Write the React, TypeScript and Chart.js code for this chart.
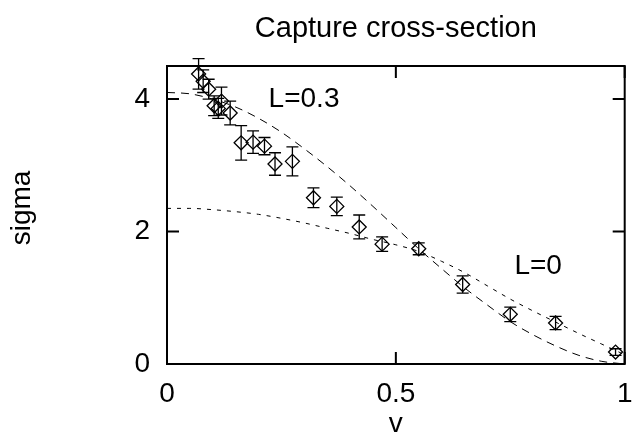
import React, { useEffect, useRef } from 'react';
import { Chart, registerables } from 'chart.js';

Chart.register(...registerables);

// ---- data ----
const vData = [0.069, 0.079, 0.091, 0.103, 0.112, 0.119, 0.138, 0.162, 0.188, 0.213, 0.236, 0.274, 0.32, 0.371, 0.42, 0.47, 0.55, 0.646, 0.75, 0.849, 0.98];
const sigmaData = [4.38, 4.27, 4.15, 3.9, 3.86, 3.97, 3.79, 3.34, 3.35, 3.29, 3.02, 3.06, 2.51, 2.38, 2.07, 1.81, 1.74, 1.2, 0.75, 0.62, 0.18];
const sigmaErr = [0.23, 0.17, 0.15, 0.15, 0.15, 0.21, 0.18, 0.26, 0.17, 0.13, 0.17, 0.22, 0.15, 0.14, 0.18, 0.11, 0.09, 0.13, 0.11, 0.1, 0.05];

const curveV = [0, 0.05, 0.1, 0.15, 0.2, 0.25, 0.3, 0.35, 0.4, 0.45, 0.5, 0.55, 0.6, 0.65, 0.7, 0.75, 0.8, 0.85, 0.9, 0.95, 1.0];
const sigmaL03 = [4.1, 4.08, 4.0, 3.88, 3.71, 3.5, 3.25, 2.98, 2.69, 2.38, 2.06, 1.74, 1.44, 1.15, 0.89, 0.64, 0.44, 0.27, 0.13, 0.04, 0.0];
const sigmaL0 = [2.35, 2.35, 2.33, 2.3, 2.26, 2.2, 2.13, 2.05, 1.97, 1.88, 1.8, 1.7, 1.55, 1.38, 1.18, 0.98, 0.8, 0.63, 0.46, 0.3, 0.14];

const xTicks = [0, 0.5, 1];
const xTickLabels = ['0', '0.5', '1'];
const yTicks = [0, 2, 4];
const yTickLabels = ['0', '2', '4'];

const titleText = 'Capture cross-section';
const xTitle = 'v';
const yTitle = 'sigma';
const curveNames = ['L=0.3', 'L=0'];

const FONT = '"Liberation Sans", Arial, Helvetica, sans-serif';
const FS = 28;

const decorPlugin = {
  id: 'decor',
  beforeDatasetsDraw(chart: any) {
    const { ctx, scales } = chart;
    const xs = scales.x, ys = scales.y;
    ctx.save();
    ctx.strokeStyle = '#000';
    ctx.lineWidth = 1.3;
    const cap = 6;
    for (let i = 0; i < vData.length; i++) {
      const x = xs.getPixelForValue(vData[i]);
      const yTop = ys.getPixelForValue(sigmaData[i] + sigmaErr[i]);
      const yBot = ys.getPixelForValue(sigmaData[i] - sigmaErr[i]);
      ctx.beginPath();
      ctx.moveTo(x, yTop); ctx.lineTo(x, yBot);
      ctx.moveTo(x - cap, yTop); ctx.lineTo(x + cap, yTop);
      ctx.moveTo(x - cap, yBot); ctx.lineTo(x + cap, yBot);
      ctx.stroke();
    }
    ctx.restore();
  },
  afterDraw(chart: any) {
    const { ctx, chartArea, scales } = chart;
    const xs = scales.x, ys = scales.y;
    const { left, right, top, bottom } = chartArea;
    ctx.save();
    ctx.strokeStyle = '#000';
    ctx.lineWidth = 2;
    ctx.strokeRect(left, top, right - left, bottom - top);
    const tl = 12;
    ctx.beginPath();
    xTicks.forEach((v) => {
      const x = xs.getPixelForValue(v);
      ctx.moveTo(x, bottom); ctx.lineTo(x, bottom - tl);
      ctx.moveTo(x, top); ctx.lineTo(x, top + tl);
    });
    yTicks.forEach((v) => {
      const y = ys.getPixelForValue(v);
      ctx.moveTo(left, y); ctx.lineTo(left + tl, y);
      ctx.moveTo(right, y); ctx.lineTo(right - tl, y);
    });
    ctx.stroke();

    ctx.fillStyle = '#000';
    // title
    ctx.font = `29px ${FONT}`;
    ctx.textAlign = 'center';
    ctx.textBaseline = 'alphabetic';
    ctx.fillText(titleText, (left + right) / 2, 37);
    ctx.font = `${FS}px ${FONT}`;
    // x title
    ctx.fillText(xTitle, (left + right) / 2, 432);
    // y title
    ctx.save();
    ctx.translate(30, (top + bottom) / 2 - 7);
    ctx.rotate(-Math.PI / 2);
    ctx.textAlign = 'center';
    ctx.fillText(yTitle, 0, 0);
    ctx.restore();
    // curve labels
    ctx.textAlign = 'left';
    ctx.textBaseline = 'middle';
    ctx.fillText(curveNames[0], xs.getPixelForValue(0.222), ys.getPixelForValue(4.0));
    ctx.fillText(curveNames[1], xs.getPixelForValue(0.759), ys.getPixelForValue(1.48));
    ctx.restore();
  },
};

export default function App() {
  const ref = useRef<HTMLCanvasElement>(null);
  useEffect(() => {
    document.body.style.margin = '0';
    const canvas = ref.current;
    if (!canvas) return;
    const chart = new Chart(canvas, {
      type: 'scatter',
      data: {
        datasets: [
          {
            label: curveNames[0],
            type: 'line',
            data: curveV.map((v, i) => ({ x: v, y: sigmaL03[i] })),
            borderColor: '#000',
            borderWidth: 1,
            borderDash: [8, 6],
            pointRadius: 0,
            fill: false,
            cubicInterpolationMode: 'monotone',
          },
          {
            label: curveNames[1],
            type: 'line',
            data: curveV.map((v, i) => ({ x: v, y: sigmaL0[i] })),
            borderColor: '#000',
            borderWidth: 1,
            borderDash: [4, 6],
            pointRadius: 0,
            fill: false,
            cubicInterpolationMode: 'monotone',
          },
          {
            label: 'data',
            data: vData.map((v, i) => ({ x: v, y: sigmaData[i] })),
            pointStyle: 'rectRot',
            pointRadius: 7,
            pointBorderWidth: 1.3,
            pointBorderColor: '#000',
            pointBackgroundColor: 'rgba(0,0,0,0)',
            showLine: false,
          },
        ],
      } as any,
      options: {
        responsive: false,
        animation: false,
        devicePixelRatio: 1,
        events: [],
        layout: { padding: { left: 0, right: 2, top: 66, bottom: 0 } },
        plugins: { legend: { display: false }, tooltip: { enabled: false }, title: { display: false } },
        scales: {
          x: {
            type: 'linear',
            min: 0,
            max: 1,
            grid: { display: false, drawTicks: false },
            border: { display: false },
            afterBuildTicks: (s: any) => { s.ticks = xTicks.map((value) => ({ value })); },
            afterFit: (s: any) => { s.height = 69; s.paddingLeft = 0; s.paddingRight = 0; },
            ticks: {
              padding: 13,
              color: '#000',
              maxRotation: 0,
              autoSkip: false,
              font: { family: FONT, size: FS },
              callback: (val: any) => xTickLabels[xTicks.indexOf(Number(val))] ?? '',
            },
          },
          y: {
            type: 'linear',
            min: 0,
            max: 4.5,
            grid: { display: false, drawTicks: false },
            border: { display: false },
            afterBuildTicks: (s: any) => { s.ticks = yTicks.map((value) => ({ value })); },
            afterFit: (s: any) => { s.width = 167; s.paddingTop = 0; s.paddingBottom = 0; },
            ticks: {
              padding: 17,
              color: '#000',
              autoSkip: false,
              font: { family: FONT, size: FS },
              callback: (val: any) => yTickLabels[yTicks.indexOf(Number(val))] ?? '',
            },
          },
        },
      } as any,
      plugins: [decorPlugin],
    });
    return () => chart.destroy();
  }, []);
  return (
    <div style={{ position: 'absolute', left: 0, top: 0, width: 633, height: 433, background: '#fff' }}>
      <canvas ref={ref} width={633} height={433} style={{ display: 'block', width: 633, height: 433 }} />
    </div>
  );
}
